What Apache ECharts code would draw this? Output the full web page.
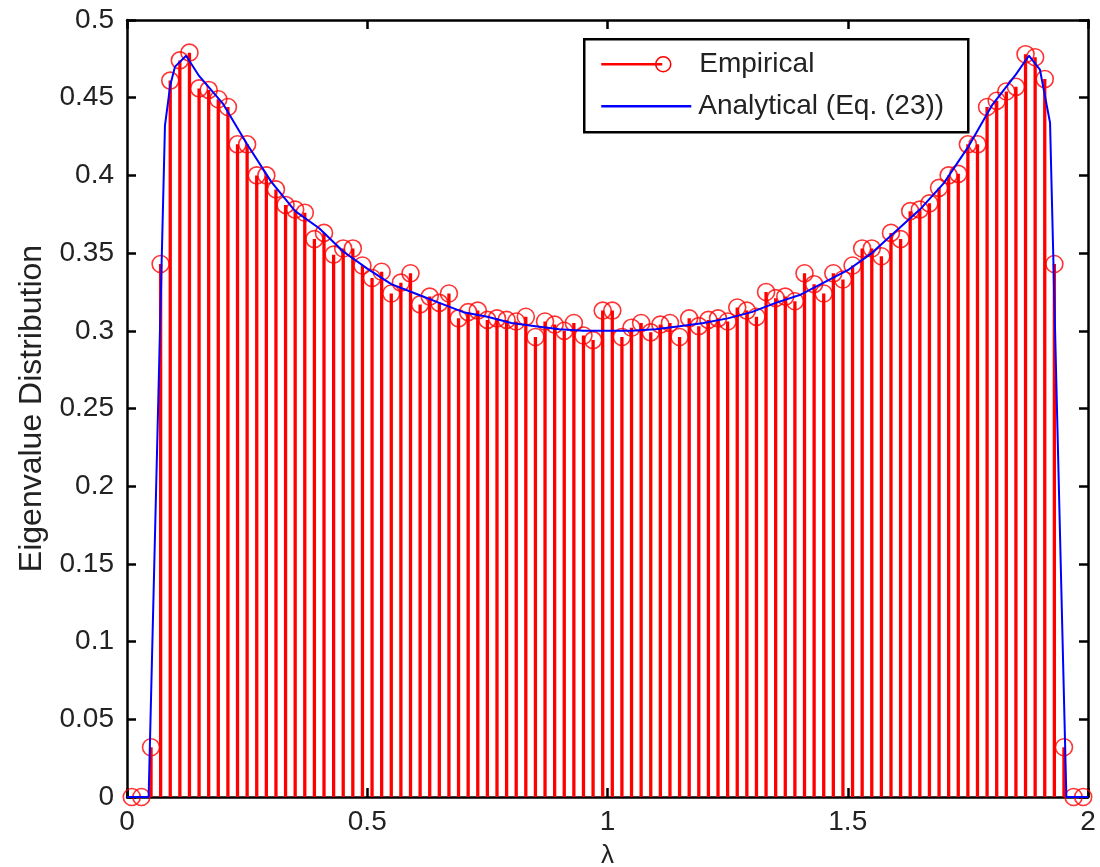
<!DOCTYPE html>
<html>
<head>
<meta charset="utf-8">
<script src="https://cdn.jsdelivr.net/npm/echarts@6/dist/echarts.min.js"></script>
<style>
  html, body { margin: 0; padding: 0; background: #fff; }
  #chart { width: 1100px; height: 867px; }
</style>
</head>
<body>
<div id="chart"></div>
<script>
// bin centres of the empirical histogram (lambda)
var binX = [];
for (var i = 0; i < 100; i++) binX.push(+(0.01 + 0.02 * i).toFixed(2));

// empirical eigenvalue distribution
var empirical = [
  0, 0, 0.032, 0.343, 0.461, 0.474, 0.479, 0.456, 0.455, 0.449,
  0.444, 0.420, 0.420, 0.400, 0.400, 0.391, 0.381, 0.378, 0.376, 0.359,
  0.363, 0.349, 0.353, 0.353, 0.342, 0.334, 0.338, 0.324, 0.331, 0.337,
  0.317, 0.322, 0.318, 0.324, 0.308, 0.312, 0.313, 0.307, 0.308, 0.307,
  0.306, 0.309, 0.296, 0.306, 0.304, 0.300, 0.305, 0.297, 0.294, 0.313,
  0.313, 0.296, 0.302, 0.305, 0.299, 0.304, 0.305, 0.296, 0.308, 0.303,
  0.307, 0.308, 0.306, 0.315, 0.313, 0.309, 0.325, 0.321, 0.322, 0.319,
  0.337, 0.330, 0.324, 0.337, 0.333, 0.342, 0.353, 0.353, 0.348, 0.363,
  0.359, 0.377, 0.378, 0.382, 0.392, 0.400, 0.401, 0.420, 0.420, 0.444,
  0.448, 0.454, 0.457, 0.478, 0.476, 0.462, 0.343, 0.032, 0, 0
];

// analytical curve (Eq. (23))
var curveX = [0, 0.045, 0.079, 0.09, 0.10, 0.123, 0.15, 0.2, 0.25, 0.3, 0.35, 0.4, 0.45,
  0.5, 0.55, 0.6, 0.65, 0.7, 0.75, 0.8, 0.85, 0.9, 0.95, 1.0,
  1.05, 1.1, 1.15, 1.2, 1.25, 1.3, 1.35, 1.4, 1.45, 1.5, 1.55, 1.6, 1.65,
  1.7, 1.75, 1.8, 1.85, 1.877, 1.9, 1.921, 1.955, 2];
var curveY = [0, 0, 0.432, 0.458, 0.470, 0.477, 0.464, 0.446, 0.420, 0.396, 0.377, 0.366, 0.351,
  0.340, 0.330, 0.324, 0.318, 0.312, 0.309, 0.305, 0.303, 0.301, 0.300, 0.300,
  0.300, 0.301, 0.303, 0.305, 0.308, 0.312, 0.318, 0.323, 0.331, 0.339, 0.350, 0.364, 0.378,
  0.395, 0.418, 0.445, 0.465, 0.477, 0.468, 0.434, 0, 0];

var xTicks = ['0', '0.5', '1', '1.5', '2'];

var FONT = "'Liberation Sans', Arial, Helvetica, sans-serif";
var TXT = '#222';

var empData = binX.map(function (x, k) { return [x, empirical[k]]; });
var curveData = curveX.map(function (x, k) { return [x, curveY[k]]; });

var myChart = echarts.init(document.getElementById('chart'));

var frameAxis = {
  axisLine: { show: true, onZero: false, lineStyle: { color: '#000', width: 2.5 } },
  axisTick: { show: true, inside: true, length: 9, lineStyle: { color: '#000', width: 2.5 } },
  splitLine: { show: false }
};

var option = {
  backgroundColor: '#fff',
  animation: false,
  grid: { left: 127, right: 12, top: 20, bottom: 70, containLabel: false, outerBoundsMode: 'none' },
  xAxis: [
    Object.assign({
      type: 'value', min: 0, max: 2, interval: 0.5,
      name: 'λ', nameLocation: 'middle', nameGap: 46,
      nameTextStyle: { fontFamily: FONT, fontSize: 26, color: TXT },
      axisLabel: {
        margin: 11, fontFamily: FONT, fontSize: 28, color: TXT,
        formatter: function (v) { return xTicks[Math.round(v / 0.5)]; }
      }
    }, frameAxis),
    Object.assign({
      type: 'value', min: 0, max: 2, interval: 0.5, position: 'top',
      axisLabel: { show: false }
    }, frameAxis)
  ],
  yAxis: [
    Object.assign({
      type: 'value', min: 0, max: 0.5, interval: 0.05,
      name: 'Eigenvalue Distribution', nameLocation: 'middle', nameGap: 78,
      nameTextStyle: { fontFamily: FONT, fontSize: 32, color: TXT },
      axisLabel: { margin: 13, fontFamily: FONT, fontSize: 28, color: TXT }
    }, frameAxis),
    Object.assign({
      type: 'value', min: 0, max: 0.5, interval: 0.05, position: 'right',
      axisLabel: { show: false }
    }, frameAxis)
  ],
  series: [
    {
      name: 'Empirical stems',
      type: 'bar',
      data: empData,
      barWidth: 3.3,
      itemStyle: { color: '#ff0000' },
      z: 2
    },
    {
      name: 'Empirical',
      type: 'scatter',
      data: empData,
      symbol: 'circle',
      symbolSize: 17,
      itemStyle: { color: 'rgba(0,0,0,0)', borderColor: '#ff0000', borderWidth: 1.6 },
      z: 3
    },
    {
      name: 'Analytical (Eq. (23))',
      type: 'line',
      data: curveData,
      showSymbol: false,
      symbol: 'none',
      lineStyle: { color: '#0000ff', width: 2 },
      z: 4
    }
  ],
  graphic: [
    {
      type: 'group', left: 583, top: 38, z: 10,
      children: [
        { type: 'rect', shape: { x: 0, y: 0, width: 384, height: 93 },
          style: { fill: '#fff', stroke: '#000', lineWidth: 2.5 } },
        { type: 'line', shape: { x1: 17, y1: 25, x2: 78, y2: 25 },
          style: { stroke: '#ff0000', lineWidth: 2.5 } },
        { type: 'circle', shape: { cx: 79, cy: 25, r: 7.5 },
          style: { fill: 'none', stroke: '#ff0000', lineWidth: 1.6 } },
        { type: 'text', x: 115, y: 25,
          style: { text: 'Empirical', font: '28px ' + FONT, fill: TXT, verticalAlign: 'middle' } },
        { type: 'line', shape: { x1: 17, y1: 67, x2: 107, y2: 67 },
          style: { stroke: '#0000ff', lineWidth: 2.5 } },
        { type: 'text', x: 114, y: 67,
          style: { text: 'Analytical (Eq. (23))', font: '28px ' + FONT, fill: TXT, verticalAlign: 'middle' } }
      ]
    }
  ]
};

myChart.setOption(option);
</script>
</body>
</html>
